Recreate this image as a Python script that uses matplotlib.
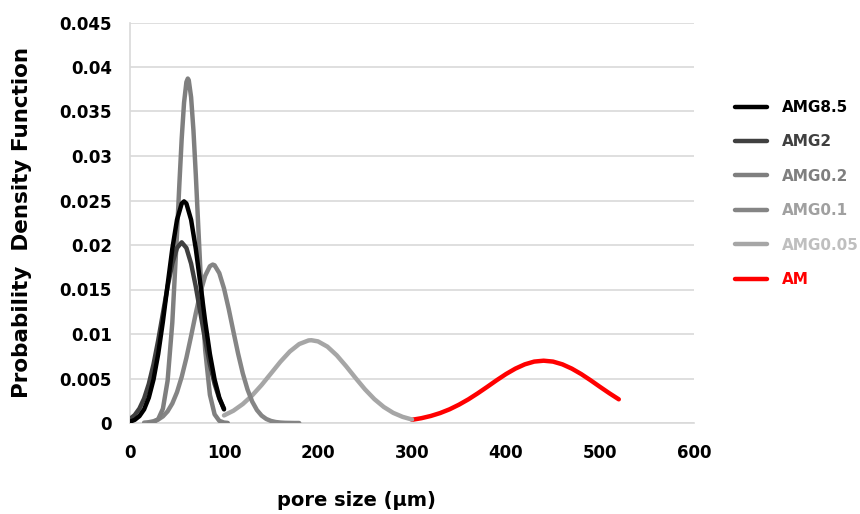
import matplotlib
matplotlib.use("Agg")
import matplotlib.pyplot as plt
from matplotlib.lines import Line2D

# ---- data ----
amg85_x = [0, 5, 10, 15, 20, 25, 30, 35, 40, 45, 50, 55, 57.5, 60, 65, 70, 75, 80, 85, 90, 95, 100]
amg85_y = [0.00015, 0.00035, 0.00077, 0.00153, 0.00284, 0.00488, 0.00775, 0.01140, 0.01552, 0.01957,
           0.02283, 0.02466, 0.0249, 0.02466, 0.02283, 0.01957, 0.01552, 0.01140, 0.00775, 0.00488,
           0.00284, 0.00153]

amg2_x = [0, 5, 10, 15, 20, 25, 30, 35, 40, 45, 50, 55, 60, 65, 70, 75, 80, 85, 90, 95, 100]
amg2_y = [0.00046, 0.00089, 0.00162, 0.00275, 0.00439, 0.00659, 0.00929, 0.01231, 0.01532, 0.01791,
          0.01967, 0.0203, 0.01967, 0.01791, 0.01532, 0.01231, 0.00929, 0.00659, 0.00439, 0.00275,
          0.00162]

amg02_x = [20, 25, 30, 35, 40, 45, 50, 52.5, 55, 57.5, 60, 61.5, 62.5, 65, 67.5, 70, 72.5, 75, 80, 85,
           90, 95, 100, 104]
amg02_y = [0.00002, 0.00009, 0.00043, 0.00160, 0.00475, 0.01127, 0.02125, 0.02680, 0.03195, 0.03599,
           0.03831, 0.0387, 0.03852, 0.03661, 0.03287, 0.02789, 0.02235, 0.01693, 0.00820, 0.00317,
           0.00097, 0.00024, 0.00005, 0.00001]

amg01_x = [15, 20, 25, 30, 35, 40, 45, 50, 55, 60, 65, 70, 75, 80, 85, 88, 90, 95, 100, 105, 110, 115,
           120, 125, 130, 135, 140, 145, 150, 155, 160, 165, 170, 175, 180]
amg01_y = [0.00004, 0.00009, 0.00020, 0.00039, 0.00074, 0.00131, 0.00219, 0.00346, 0.00518, 0.00732,
           0.00977, 0.01233, 0.01470, 0.01655, 0.01762, 0.0178, 0.01772, 0.01684, 0.01512, 0.01283,
           0.01028, 0.00779, 0.00557, 0.00377, 0.00241, 0.00146, 0.00083, 0.00045, 0.00023, 0.00011,
           0.00005, 0.00002, 0.00001, 0.0, 0.0]

amg005_x = [100, 110, 120, 130, 140, 150, 160, 170, 180, 190, 193, 200, 210, 220, 230, 240, 250, 260,
            270, 280, 290, 300]
amg005_y = [0.00085, 0.00138, 0.00213, 0.00310, 0.00427, 0.00557, 0.00688, 0.00803, 0.00887, 0.00928,
            0.0093, 0.00917, 0.00858, 0.00760, 0.00637, 0.00505, 0.00378, 0.00268, 0.00180, 0.00114,
            0.00069, 0.00039]

am_x = [300, 310, 320, 330, 340, 350, 360, 370, 380, 390, 400, 410, 420, 430, 440, 450, 460, 470, 480,
        490, 500, 510, 520]
am_y = [0.00036, 0.00054, 0.00079, 0.00112, 0.00154, 0.00206, 0.00266, 0.00334, 0.00406, 0.00480,
        0.00550, 0.00611, 0.00659, 0.00690, 0.00700, 0.00690, 0.00659, 0.00611, 0.00550, 0.00480,
        0.00406, 0.00334, 0.00266]

series_names = ["AMG8.5", "AMG2", "AMG0.2", "AMG0.1", "AMG0.05", "AM"]
line_colors = ["#000000", "#404040", "#7F7F7F", "#858585", "#A6A6A6", "#FF0000"]
text_colors = ["#000000", "#404040", "#7F7F7F", "#A0A0A0", "#BFBFBF", "#FF0000"]
series_x = [amg85_x, amg2_x, amg02_x, amg01_x, amg005_x, am_x]
series_y = [amg85_y, amg2_y, amg02_y, amg01_y, amg005_y, am_y]

x_ticks = [0, 100, 200, 300, 400, 500, 600]
y_ticks = [0, 0.005, 0.01, 0.015, 0.02, 0.025, 0.03, 0.035, 0.04, 0.045]
y_tick_labels = ["0", "0.005", "0.01", "0.015", "0.02", "0.025", "0.03", "0.035", "0.04", "0.045"]

# ---- figure ----
plt.rcParams['font.family'] = ['DejaVu Sans']
fig = plt.figure(figsize=(8.6, 5.14), dpi=100)
ax = fig.add_axes([130 / 860, 1 - 423 / 514, (694 - 130) / 860, (423 - 22.5) / 514])

grid_c = "#D9D9D9"
for i in reversed(range(len(series_names))):
    ax.plot(series_x[i], series_y[i], color=line_colors[i], lw=3.2,
            solid_capstyle='round', solid_joinstyle='round', zorder=3)

ax.set_xlim(0, 600)
ax.set_ylim(0, 0.045)
ax.set_xticks(x_ticks)
ax.set_xticklabels([str(t) for t in x_ticks])
ax.set_yticks(y_ticks)
ax.set_yticklabels(y_tick_labels)
ax.grid(axis='y', color=grid_c, lw=1.2, zorder=0)
ax.set_axisbelow(True)
for s in ["top", "right"]:
    ax.spines[s].set_visible(False)
for s in ["left", "bottom"]:
    ax.spines[s].set_color(grid_c)
    ax.spines[s].set_linewidth(1.2)
ax.tick_params(length=0, labelsize=12)
ax.tick_params(axis='x', pad=15)
ax.tick_params(axis='y', pad=13)
for lab in ax.get_xticklabels() + ax.get_yticklabels():
    lab.set_fontweight('bold')

fig.text(22 / 860, 1 - 222 / 514, "Probability  Density Function", rotation=90,
         ha='center', va='center', fontsize=15.5, fontweight='bold')
fig.text(356 / 860, 1 - 500 / 514, "pore size (\u03bcm)", ha='center', va='center',
         fontsize=14, fontweight='bold')

handles = [Line2D([0], [0], color=c, lw=3.2, solid_capstyle='round') for c in line_colors]
leg = fig.legend(handles, series_names, loc='upper left',
                 bbox_to_anchor=(735 / 860, 1 - 100 / 514), frameon=False,
                 prop={'size': 11, 'weight': 'bold'}, handlelength=2.1,
                 handletextpad=1.0, labelspacing=1.27, borderpad=0, borderaxespad=0)
for t, c in zip(leg.get_texts(), text_colors):
    t.set_color(c)

fig.savefig("out.png", dpi=100)
